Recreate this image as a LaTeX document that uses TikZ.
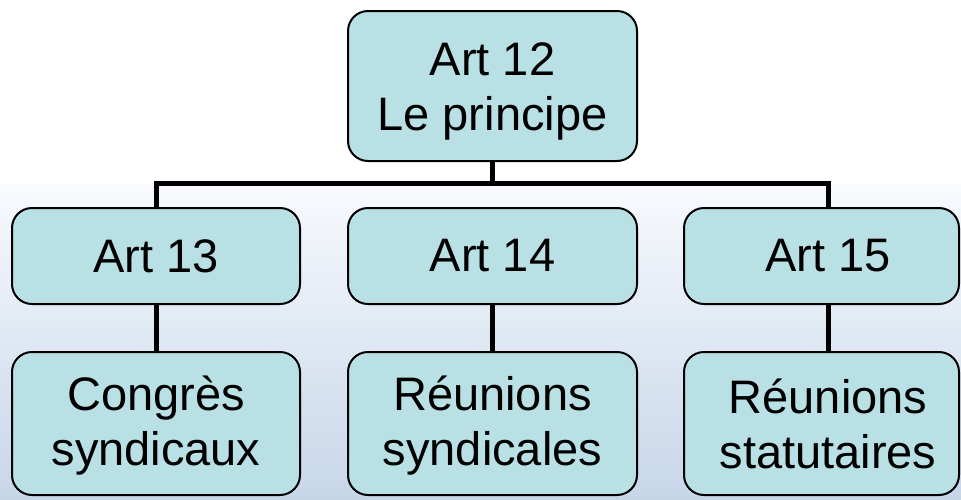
\documentclass[tikz,border=0pt]{standalone}
\usepackage{fontspec}
\setmainfont{Liberation Sans}
\usetikzlibrary{calc}
\definecolor{boxfill}{RGB}{185,224,228}
\definecolor{bgtop}{RGB}{248,250,253}
\definecolor{bgbot}{RGB}{198,214,233}
\begin{document}
\begin{tikzpicture}[x=1pt,y=-1pt,
  box/.style={draw=black, line width=2pt, fill=boxfill, rounded corners=20pt,
    inner sep=0pt, align=center, font=\fontsize{47}{55}\selectfont},
  conn/.style={line width=5pt, line join=miter}]
\useasboundingbox (0,0) rectangle (961,499);
\clip (0,0) rectangle (961,499);
\fill[white] (0,0) rectangle (961,184);
\shade[top color=bgtop, bottom color=bgbot] (0,184) rectangle (961,499);

\node[box, minimum width=289pt, minimum height=150pt] (top) at (492.5,86) {\rule{0pt}{43pt}Art 12\\Le principe};

\node[box, minimum width=288pt, minimum height=96pt] (b1) at (156,256) {Art 13};
\node[box, minimum width=289pt, minimum height=96pt] (b2) at (492.5,256) {Art 14};
\node[box, minimum width=275pt, minimum height=96pt] (b3) at (821.5,256) {\hspace*{13pt}Art 15};

\node[box, minimum width=288pt, minimum height=143pt] (c1) at (156,423.5) {\rule{0pt}{38pt}Congrès\\syndicaux};
\node[box, minimum width=289pt, minimum height=143pt] (c2) at (492.5,423.5) {\rule{0pt}{38pt}Réunions\\syndicales};
\node[box, minimum width=275pt, minimum height=143pt] (c3) at (821.5,423.5) {\hspace*{13pt}Réunions\\\hspace*{13pt}statutaires};

\coordinate (j) at (492.5,183);
\coordinate (b3t) at ($(b3.north)+(6.5,0)$);
\coordinate (b3b) at ($(b3.south)+(6.5,0)$);
\coordinate (c3t) at ($(c3.north)+(6.5,0)$);

\draw[conn] (top.south) -- (j);
\draw[conn] (b1.north) |- (j) -| (b3t);
\draw[conn] (b1.south) -- (c1.north);
\draw[conn] (b2.south) -- (c2.north);
\draw[conn] (b3b) -- (c3t);
\end{tikzpicture}
\end{document}
